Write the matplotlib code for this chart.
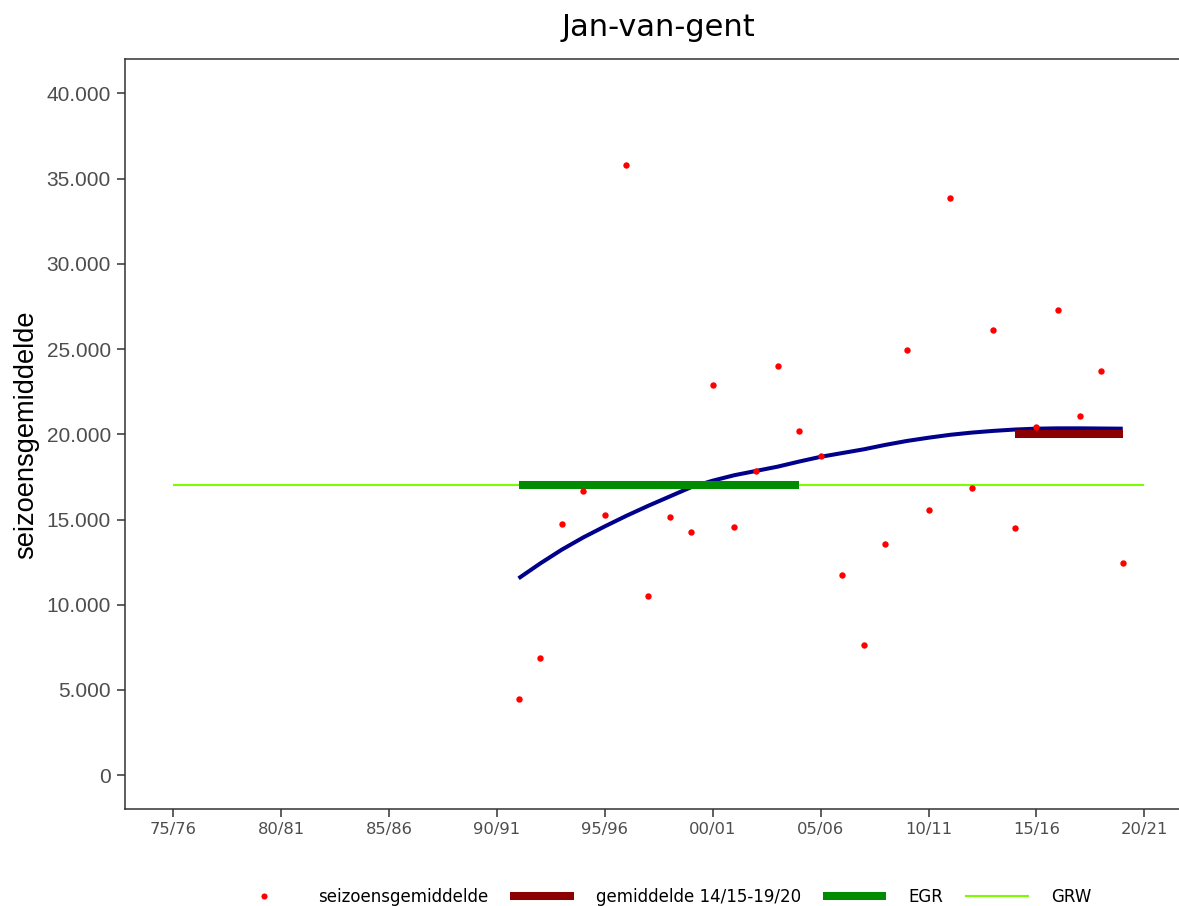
import matplotlib
matplotlib.use("Agg")
import matplotlib.pyplot as plt
from matplotlib.lines import Line2D
from matplotlib.ticker import FuncFormatter

# ---- data ----
seasons = list(range(1991, 2020))  # start year of season 91/92 .. 19/20
season_avg = [4500, 6900, 14750, 16650, 15250, 35800, 10500, 15150, 14250, 22900,
              14550, 17850, 24000, 20200, 18750, 11750, 7650, 13550, 24950, 15550,
              33850, 16850, 26100, 14500, 20400, 27300, 21050, 23700, 12450]
trend = [11550, 12420, 13230, 13950, 14600, 15220, 15800, 16350, 16900, 17280,
         17600, 17850, 18100, 18400, 18680, 18900, 19120, 19380, 19610, 19800,
         19970, 20100, 20200, 20280, 20330, 20350, 20350, 20340, 20330]
recent_mean_start, recent_mean_end, recent_mean = 2014, 2019, 20000
egr_start, egr_end, egr_value = 1991, 2004, 17000
grw_start, grw_end, grw_value = 1975, 2020, 17000
xtick_years = list(range(1975, 2021, 5))
xtick_labels = ["75/76", "80/81", "85/86", "90/91", "95/96", "00/01",
                "05/06", "10/11", "15/16", "20/21"]
ytick_values = list(range(0, 40001, 5000))

title = "Jan-van-gent"
ylabel = "seizoensgemiddelde"
legend_labels = ["seizoensgemiddelde", "gemiddelde 14/15-19/20", "EGR", "GRW"]

# ---- styles ----
C_POINT = "#FF0000"
C_TREND = "#00008B"
C_RECENT = "#8B0000"
C_EGR = "#008B00"
C_GRW = "#7CFC00"
AX_COL = "#333333"
TXT_GRAY = "#4D4D4D"

W, H = 1179, 906
fig = plt.figure(figsize=(W / 100, H / 100), dpi=100)
left_px, right_px = 124.75, 1192.9
top_px, bot_px = 59.3, 809.3
ax = fig.add_axes([left_px / W, 1 - bot_px / H,
                   (right_px - left_px) / W, (bot_px - top_px) / H])

ax.plot([grw_start, grw_end], [grw_value, grw_value], color=C_GRW, lw=1.5,
        solid_capstyle="butt", zorder=1)
ax.plot(seasons, trend, color=C_TREND, lw=2.9, solid_capstyle="butt",
        solid_joinstyle="round", zorder=2)
ax.plot([egr_start, egr_end], [egr_value, egr_value], color=C_EGR, lw=5.8,
        solid_capstyle="butt", zorder=3)
ax.plot([recent_mean_start, recent_mean_end], [recent_mean, recent_mean],
        color=C_RECENT, lw=5.8, solid_capstyle="butt", zorder=3)
ax.plot(seasons, season_avg, linestyle="none", marker="o", ms=4.6,
        color=C_POINT, mec="none", zorder=4)

ax.set_xlim(1972.75, 2022.25)
ax.set_ylim(-2000, 42000)
ax.set_xticks(xtick_years)
ax.set_xticklabels(xtick_labels, fontfamily="DejaVu Sans", fontsize=11.8,
                   color=TXT_GRAY)
ax.set_yticks(ytick_values)
ax.yaxis.set_major_formatter(FuncFormatter(
    lambda v, p: f"{int(v):,}".replace(",", ".")))
for lab in ax.get_yticklabels():
    lab.set_fontfamily("Liberation Sans")
    lab.set_fontsize(15)
    lab.set_color(TXT_GRAY)
ax.tick_params(axis="both", length=5.5, width=1.1, color=AX_COL)
ax.tick_params(axis="y", pad=4.5)
ax.tick_params(axis="x", pad=3.5)
for s in ["left", "top", "bottom"]:
    ax.spines[s].set_color(AX_COL)
    ax.spines[s].set_linewidth(1.1)
ax.spines["right"].set_visible(False)

fig.text(26 / W, 1 - 435 / H, ylabel, rotation=90, ha="center", va="center",
         fontfamily="Liberation Sans", fontsize=19.6, color="black")
fig.text(658 / W, 1 - 27 / H, title, ha="center", va="center",
         fontfamily="DejaVu Sans", fontsize=22, color="black")

handles = [
    Line2D([], [], linestyle="none", marker="o", ms=4.4, color=C_POINT, mec="none"),
    Line2D([], [], color=C_RECENT, lw=5.8, solid_capstyle="butt"),
    Line2D([], [], color=C_EGR, lw=5.8, solid_capstyle="butt"),
    Line2D([], [], color=C_GRW, lw=1.5, solid_capstyle="butt"),
]
leg = fig.legend(handles, legend_labels, loc="center", ncol=4, frameon=False,
                 bbox_to_anchor=(662 / W, 1 - 897 / H),
                 prop={"family": "DejaVu Sans", "size": 12},
                 handlelength=3.8, handletextpad=1.35, columnspacing=1.3,
                 borderpad=0, borderaxespad=0)

fig.savefig("out.png", dpi=100)
